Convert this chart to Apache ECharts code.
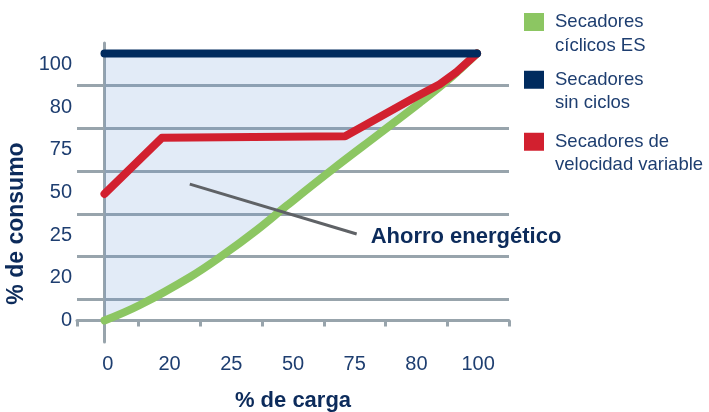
<!DOCTYPE html>
<html>
<head>
<meta charset="utf-8">
<script src="https://cdn.jsdelivr.net/npm/echarts@6/dist/echarts.min.js"></script>
<style>
  html, body { margin: 0; padding: 0; background: #ffffff; }
  #chart { width: 709px; height: 412px; }
</style>
</head>
<body>
<div id="chart"></div>
<script>
// ---- data ----
var xCategories = ['0', '20', '25', '50', '75', '80', '100'];   // % de carga tick labels
var yCategories = ['0', '20', '25', '50', '75', '80', '100'];   // % de consumo tick labels

var seriesNames = ['Secadores cíclicos ES', 'Secadores sin ciclos', 'Secadores de velocidad variable'];
var legendLabels = ['Secadores\ncíclicos ES', 'Secadores\nsin ciclos', 'Secadores de\nvelocidad variable'];

// [load %, consumption %]
var ciclicosES = [[0, 0], [9.5, 5.8], [23, 16.3], [31.8, 24.5], [40.9, 33.9], [49, 43.1], [61.3, 56.7], [74, 70.2], [84.7, 81.6], [93.5, 91.6], [100, 100]];
var sinCiclos = [[0, 100], [100, 100]];
var velocidadVariable = [[0, 47.4], [15.4, 68.4], [64.6, 69], [82.9, 83.2], [90, 88.5], [94.6, 93.2], [100, 100]];
var annotationLine = [[22.9, 51.1], [67.7, 32.4]];
var annotationText = 'Ahorro energético';

var colors = { green: '#8cc662', navy: '#002b5e', red: '#d2202f' };
var textNavy = '#1e3e70';
var titleNavy = '#0c2b5b';
var gridGrey = '#98a4ac';
var font = "'Liberation Sans', Arial, Helvetica, sans-serif";

var chart = echarts.init(document.getElementById('chart'), null, { renderer: 'canvas' });

function makeLegend(i, top) {
  return {
    data: [seriesNames[i]],
    left: 524,
    top: top,
    padding: 0,
    icon: 'rect',
    itemWidth: 20,
    itemHeight: 18,
    selectedMode: false,
    formatter: function () { return '\n' + legendLabels[i]; },
    textStyle: {
      fontFamily: font,
      fontSize: 18.5,
      lineHeight: 23.5,
      color: textNavy,
      padding: [0, 0, 0, 6]
    }
  };
}

var option = {
  backgroundColor: '#ffffff',
  animation: false,
  legend: [makeLegend(0, -13.25), makeLegend(1, 44.5), makeLegend(2, 106.5)],
  grid: { left: 77, right: 200, top: 43, bottom: 70, containLabel: false, outerBoundsMode: 'none' },
  xAxis: [
    {
      type: 'category',
      data: xCategories,
      boundaryGap: true,
      name: '% de carga',
      nameLocation: 'middle',
      nameGap: 48,
      nameTextStyle: { fontFamily: font, fontSize: 22, fontWeight: 'bold', color: titleNavy },
      axisLine: { show: true, lineStyle: { color: gridGrey, width: 3 } },
      axisTick: { show: true, length: 6, lineStyle: { color: gridGrey, width: 3 } },
      axisLabel: { interval: 0, margin: 12, fontFamily: font, fontSize: 20, color: textNavy },
      splitLine: { show: false }
    },
    {
      type: 'value',
      min: -7.38,
      max: 108.59,
      show: false,
      splitLine: { show: false }
    }
  ],
  yAxis: [
    {
      type: 'category',
      data: yCategories,
      boundaryGap: true,
      name: '% de consumo',
      nameLocation: 'middle',
      nameGap: 42,
      nameRotate: 90,
      nameTextStyle: { fontFamily: font, fontSize: 23, fontWeight: 'bold', color: titleNavy, padding: [0, 62, 0, 0] },
      axisLine: { show: true, lineStyle: { color: gridGrey, width: 3 } },
      axisTick: { show: false },
      axisLabel: { interval: 0, margin: 5, fontFamily: font, fontSize: 20, color: textNavy },
      splitLine: { show: true, interval: 0, showMinLine: false, showMaxLine: false, lineStyle: { color: gridGrey, width: 3 } }
    },
    {
      type: 'value',
      min: -8.05,
      max: 103.93,
      show: false,
      splitLine: { show: false }
    }
  ],
  series: [
    {
      name: 'area',
      type: 'custom',
      xAxisIndex: 1,
      yAxisIndex: 1,
      silent: true,
      data: [[0, 0]],
      renderItem: function (params, api) {
        var pts = [];
        for (var i = 0; i < sinCiclos.length; i++) pts.push(api.coord(sinCiclos[i]));
        for (var j = ciclicosES.length - 1; j >= 0; j--) pts.push(api.coord(ciclicosES[j]));
        return {
          type: 'polygon',
          shape: { points: pts, smooth: 0 },
          style: { fill: 'rgba(95,145,210,0.18)' }
        };
      }
    },
    {
      name: seriesNames[0],
      type: 'line',
      xAxisIndex: 1,
      yAxisIndex: 1,
      data: ciclicosES,
      smooth: 0.4,
      symbol: 'none',
      color: colors.green,
      lineStyle: { color: colors.green, width: 8, cap: 'round', join: 'round' }
    },
    {
      name: seriesNames[2],
      type: 'line',
      xAxisIndex: 1,
      yAxisIndex: 1,
      data: velocidadVariable,
      symbol: 'none',
      color: colors.red,
      lineStyle: { color: colors.red, width: 8, cap: 'round', join: 'round' }
    },
    {
      name: seriesNames[1],
      type: 'line',
      xAxisIndex: 1,
      yAxisIndex: 1,
      data: sinCiclos,
      symbol: 'none',
      color: colors.navy,
      lineStyle: { color: colors.navy, width: 8, cap: 'round', join: 'round' }
    },
    {
      name: 'annotation',
      type: 'line',
      xAxisIndex: 1,
      yAxisIndex: 1,
      data: annotationLine,
      symbol: 'none',
      silent: true,
      lineStyle: { color: '#5f6266', width: 3 },
      endLabel: {
        show: true,
        formatter: annotationText,
        distance: 14,
        offset: [0, 3],
        fontFamily: font,
        fontSize: 22,
        fontWeight: 'bold',
        color: titleNavy
      }
    }
  ]
};

chart.setOption(option);
</script>
</body>
</html>
